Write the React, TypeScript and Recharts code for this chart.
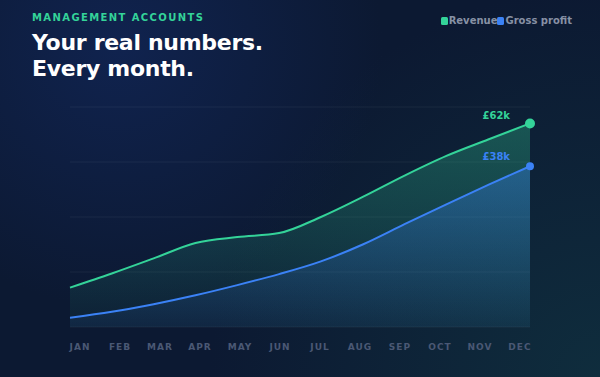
import { ComposedChart, Area, XAxis, YAxis, CartesianGrid } from 'recharts'

const MONTHS = ['JAN', 'FEB', 'MAR', 'APR', 'MAY', 'JUN', 'JUL', 'AUG', 'SEP', 'OCT', 'NOV', 'DEC']
// £k
const REVENUE = [12.0, 16.3, 20.9, 25.6, 27.4, 28.6, 33.5, 39.6, 46.1, 52.1, 57.1, 62]
const GROSS_PROFIT = [2.2, 3.6, 5.4, 7.5, 9.9, 12.5, 15.5, 19.5, 24.3, 29.0, 33.6, 38]
const REV_MAX = 67
const GP_MAX = 52
const REV_TICKS = [0, 1, 2, 3, 4].map(i => (REV_MAX * i) / 4)

const GREEN = '#34d399'
const BLUE = '#3b82f6'
const FONT = '"DejaVu Sans", sans-serif'

const data = MONTHS.map((m, i) => ({ month: m, revenue: REVENUE[i], gross: GROSS_PROFIT[i] }))

function MonthTick(props: any) {
  const { x, y, payload, index } = props
  // labels sit in a space-between row, so nudge them off the point positions
  const dx = 10 - index * 1.82
  return (
    <text
      x={x + dx}
      y={y + 15}
      textAnchor="middle"
      fill="#4a5874"
      fontSize={9}
      fontWeight="bold"
      letterSpacing={1}
      fontFamily={FONT}
    >
      {payload.value}
    </text>
  )
}

function endDot(color: string, r: number, dy: number) {
  return (props: any) => {
    const { cx, cy, index, value } = props
    if (index !== MONTHS.length - 1) return <g key={index} />
    const v = Array.isArray(value) ? value[1] : value
    return (
      <g key={index}>
        <circle cx={cx} cy={cy} r={r} fill={color} />
        <text
          x={cx - 20}
          y={cy + dy}
          textAnchor="end"
          fill={color}
          fontSize={10}
          fontWeight="bold"
          fontFamily={FONT}
        >
          £{Math.round(v)}k
        </text>
      </g>
    )
  }
}

function LegendItem({ color, label }: { color: string; label: string }) {
  return (
    <span style={{ display: 'flex', alignItems: 'center' }}>
      <span style={{ width: 7, height: 8, borderRadius: 1.5, background: color, marginRight: 1 }} />
      {label}
    </span>
  )
}

export default function App() {
  return (
    <div
      style={{
        position: 'absolute',
        left: 0,
        top: 0,
        width: 600,
        height: 377,
        overflow: 'hidden',
        fontFamily: FONT,
        background:
          'radial-gradient(circle at 20% 12%, #10234f 0%, rgba(16,35,79,0) 45%), radial-gradient(circle at 100% 100%, #0f2d3d 0%, rgba(15,45,61,0) 55%), #0c1932',
      }}
    >
      <div
        style={{
          position: 'absolute',
          left: 32,
          top: 12,
          color: GREEN,
          fontSize: 10,
          fontWeight: 'bold',
          letterSpacing: 1.4,
        }}
      >
        MANAGEMENT ACCOUNTS
      </div>
      <div
        style={{
          position: 'absolute',
          left: 32,
          top: 30,
          color: '#ffffff',
          fontSize: 22,
          fontWeight: 'bold',
          lineHeight: '26px',
          letterSpacing: -0.3,
        }}
      >
        Your real numbers.
        <br />
        Every month.
      </div>
      <div
        style={{
          position: 'absolute',
          right: 28,
          top: 15,
          display: 'flex',
          color: '#8791a5',
          fontSize: 10,
          fontWeight: 'bold',
        }}
      >
        <LegendItem color={GREEN} label="Revenue" />
        <LegendItem color={BLUE} label="Gross profit" />
      </div>

      <div style={{ position: 'absolute', left: 0, top: 0 }}>
        <ComposedChart
          width={600}
          height={377}
          data={data}
          margin={{ top: 107, right: 70, left: 70, bottom: 20 }}
        >
          <defs>
            <linearGradient id="revFill" x1="0" y1="0" x2="0" y2="1">
              <stop offset="0%" stopColor={GREEN} stopOpacity={0.3} />
              <stop offset="100%" stopColor={GREEN} stopOpacity={0.04} />
            </linearGradient>
            <linearGradient id="gpFill" x1="0" y1="0" x2="0" y2="1">
              <stop offset="0%" stopColor={BLUE} stopOpacity={0.36} />
              <stop offset="100%" stopColor={BLUE} stopOpacity={0.06} />
            </linearGradient>
          </defs>
          <CartesianGrid yAxisId="rev" vertical={false} stroke="rgba(255,255,255,0.055)" />
          <XAxis
            dataKey="month"
            axisLine={false}
            tickLine={false}
            height={30}
            interval={0}
            tick={<MonthTick />}
          />
          <YAxis yAxisId="rev" hide domain={[0, REV_MAX]} ticks={REV_TICKS} />
          <YAxis yAxisId="gp" hide domain={[0, GP_MAX]} />
          <Area
            yAxisId="rev"
            type="monotone"
            dataKey="revenue"
            stroke={GREEN}
            strokeWidth={2}
            fill="url(#revFill)"
            fillOpacity={1}
            dot={endDot(GREEN, 5, -4)}
            activeDot={false}
            isAnimationActive={false}
          />
          <Area
            yAxisId="gp"
            type="monotone"
            dataKey="gross"
            stroke={BLUE}
            strokeWidth={2}
            fill="url(#gpFill)"
            fillOpacity={1}
            dot={endDot(BLUE, 4, -6)}
            activeDot={false}
            isAnimationActive={false}
          />
        </ComposedChart>
      </div>
    </div>
  )
}
